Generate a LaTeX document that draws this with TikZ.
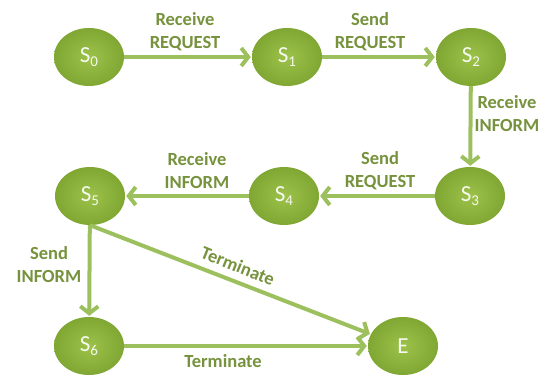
\documentclass[tikz,border=0pt]{standalone}
\usepackage{fontspec}
\setmainfont{Carlito}
\usetikzlibrary{arrows.meta,shapes.geometric}
\definecolor{nodegreen}{HTML}{8CB33B}
\definecolor{nodelight}{HTML}{9CC24A}
\definecolor{nodedark}{HTML}{80A733}
\definecolor{arrowgreen}{HTML}{9DC05E}
\definecolor{labelgreen}{HTML}{76923C}
\newcommand{\stname}[2]{#1\raisebox{-0.3ex}{\fontsize{15}{15}\selectfont #2}}
\begin{document}
\begin{tikzpicture}[x=1pt,y=-1pt,
  state/.style={ellipse, minimum width=70pt, minimum height=58pt, inner sep=0pt,
    inner color=nodelight, outer color=nodedark, text=white!92!nodegreen,
    font=\fontsize{23}{23}\selectfont},
  trans/.style={draw=arrowgreen, line width=4pt,
    -{Straight Barb[length=7pt,width=18pt,line width=4pt]}, shorten >=1pt},
  lbl/.style={text=labelgreen, font=\bfseries\fontsize{18.5}{23}\selectfont, align=center, inner sep=0pt}
]
\useasboundingbox (0,0) rectangle (547,378);
\node[state] (s0) at (89,57) {\stname{S}{0}};
\node[state] (s1) at (287,57) {\stname{S}{1}};
\node[state] (s2) at (471,57) {\stname{S}{2}};
\node[state] (s3) at (470,196) {\stname{S}{3}};
\node[state] (s4) at (284,196) {\stname{S}{4}};
\node[state] (s5) at (90,196) {\stname{S}{5}};
\node[state] (s6) at (89,346) {\stname{S}{6}};
\node[state] (e) at (403,346) {E};

\draw[trans] (s0) -- (s1);
\draw[trans] (s1) -- (s2);
\draw[trans] (s2) -- (s3);
\draw[trans] (s3) -- (s4);
\draw[trans] (s4) -- (s5);
\draw[trans] (s5) -- (s6);
\draw[trans] (s5.south) -- (e.160);
\draw[trans] (s6) -- (e);

\node[lbl] (l01) at (185,32) {Receive\\REQUEST};
\node[lbl] (l12) at (370,32) {Send\\REQUEST};
\node[lbl] (l23) at (507,114) {Receive\\INFORM};
\node[lbl] (l34) at (380,171) {Send\\REQUEST};
\node[lbl] (l45) at (197,171) {Receive\\INFORM};
\node[lbl] (l56) at (49,265) {Send\\INFORM};
\node[lbl, rotate=-22] (l5e) at (238,266) {Terminate};
\node[lbl] (l6e) at (223,361) {Terminate};
\end{tikzpicture}
\end{document}
